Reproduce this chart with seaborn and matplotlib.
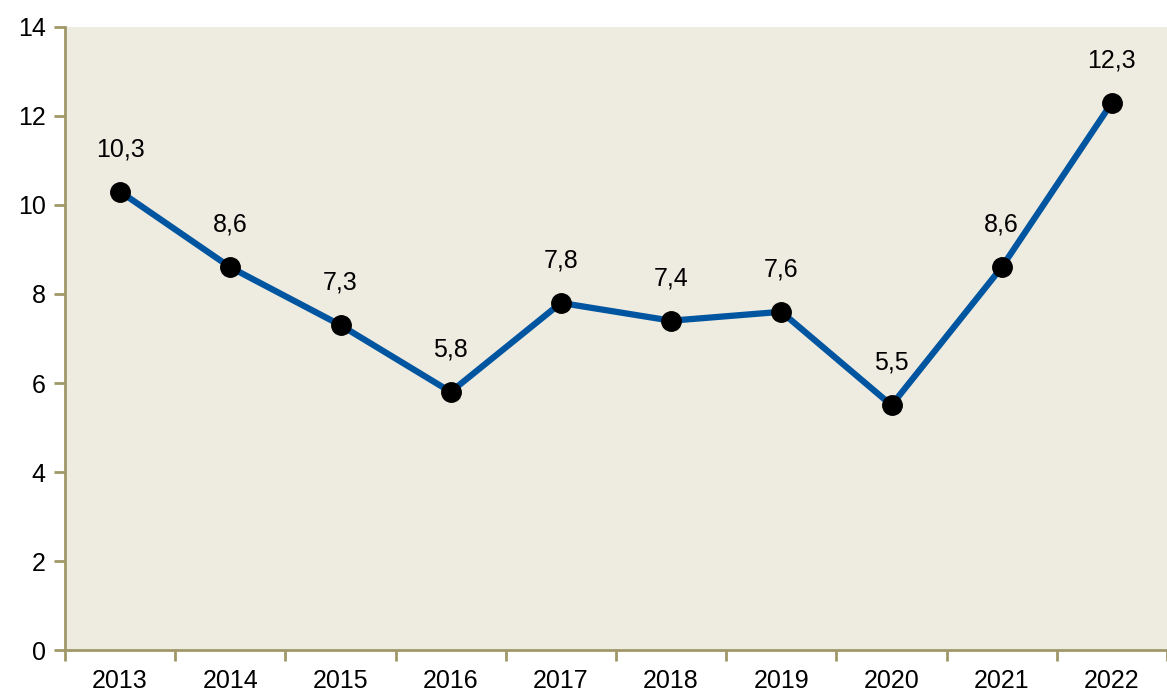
import matplotlib
matplotlib.use("Agg")
import matplotlib.pyplot as plt
import seaborn as sns
import numpy as np
from matplotlib import font_manager

years = ["2013", "2014", "2015", "2016", "2017", "2018", "2019", "2020", "2021", "2022"]
values = [10.3, 8.6, 7.3, 5.8, 7.8, 7.4, 7.6, 5.5, 8.6, 12.3]
labels = ["10,3", "8,6", "7,3", "5,8", "7,8", "7,4", "7,6", "5,5", "8,6", "12,3"]

sns.set_style("white", {"xtick.bottom": True, "ytick.left": True})
names = {f.name for f in font_manager.fontManager.ttflist}
fam = "Liberation Sans Narrow" if "Liberation Sans Narrow" in names else "Liberation Sans"
plt.rcParams["font.family"] = [fam, "DejaVu Sans"]
plt.rcParams["text.color"] = "black"
plt.rcParams["xtick.color"] = "black"
plt.rcParams["ytick.color"] = "black"

spine_col = "#A09868"
fig = plt.figure(figsize=(11.67, 6.97), dpi=100)
ax = fig.add_axes([0.0557, 0.0674, 0.9443, 0.8939])
ax.set_facecolor("#EEEBE0")

x = np.arange(len(years))
sns.lineplot(x=x, y=values, ax=ax, color="#0055A0", linewidth=4.5, zorder=2)
ax.plot(x, values, "o", color="black", markersize=14, zorder=3)

for xi, v, t in zip(x, values, labels):
    ax.annotate(t, (xi, v), xytext=(0, 22), textcoords="offset points",
                ha="center", va="bottom", fontsize=18, color="black")

ax.set_xlim(-0.5, len(years) - 0.5)
ax.set_ylim(0, 14)
ax.set_yticks(range(0, 15, 2))
ax.set_xticks(x)
ax.set_xticklabels(years)
ax.set_xticks(np.arange(-0.5, len(years), 1.0), minor=True)
ax.tick_params(axis="x", which="major", length=0, labelsize=18, pad=14, labelcolor="black")
ax.tick_params(axis="x", which="minor", bottom=True, length=8, width=2, color=spine_col, direction="out")
ax.tick_params(axis="y", left=True, length=8, width=2, color=spine_col, direction="out",
               labelsize=18, pad=6, labelcolor="black")

for s in ["top", "right"]:
    ax.spines[s].set_visible(False)
for s in ["left", "bottom"]:
    ax.spines[s].set_color(spine_col)
    ax.spines[s].set_linewidth(2)

fig.savefig("out.png", dpi=100)
